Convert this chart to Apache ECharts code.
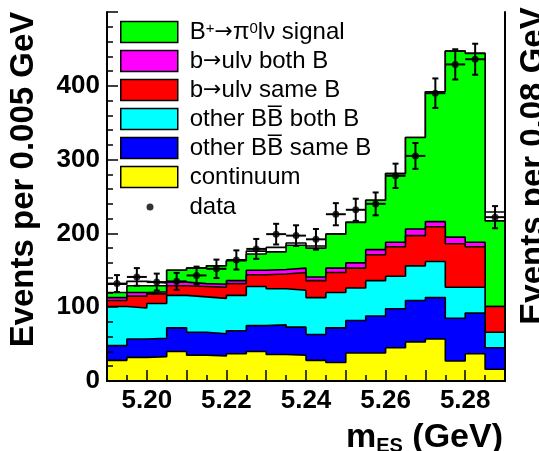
<!DOCTYPE html>
<html><head><meta charset="utf-8">
<script src="https://cdn.jsdelivr.net/npm/echarts@6/dist/echarts.min.js"></script>
<style>html,body{margin:0;padding:0;background:#fff}#c{width:539px;height:451px}</style>
</head><body><div id="c"></div>
<script>
// bin lower edges (GeV), bin width 0.005
const binLow = [5.190,5.195,5.200,5.205,5.210,5.215,5.220,5.225,5.230,5.235,5.240,5.245,5.250,5.255,5.260,5.265,5.270,5.275,5.280,5.285];
const binWidth = 0.005;
// stacked components (events per bin), bottom to top
const continuum = [28,32,33,40,35,34,37,40,36,35,28,25,38,38,45,53,57,27,37,16];
const otherSameB = [20,25,25,32,31,30,31,35,40,38,35,47,44,50,53,56,56,58,55,29];
const otherBothB = [53,42,47,44,48,48,48,53,49,50,50,48,44,48,44,47,49,42,35,21];
const bulvSameB = [8,16,13,13,14,15,16,16,20,24,23,27,27,35,40,41,47,59,55,35];
const bulvBothB = [4,5,3,5,4,4,4,6,6,6,5,6,7,7,6,9,7,9,6,0];
const signal = [7,9,8,16,21,25,27,22,24,31,39,46,55,67,93,124,176,252,256,116];
const remainder = [11,6,4,0,0,0,0,4,6,3,3,0,0,0,0,0,0,0,0,12];
// data points and errors
const dataVals = [132,141,134,135,143,152,164,179,199,197,192,226,232,240,278,305,390,429,436,222];
const dataErr = [11.5,12,11.5,11.5,12,12.5,13,13.5,14,14,14,15,15,15.5,16.5,17.5,20,20.5,21,15];
// axis ticks / labels
const xLabelVals = [5.20,5.22,5.24,5.26,5.28];
const xMajorTicks = [5.20,5.21,5.22,5.23,5.24,5.25,5.26,5.27,5.28];
const xMinorTicks = [5.195,5.205,5.215,5.225,5.235,5.245,5.255,5.265,5.275,5.285];

const FONT = 'Liberation Sans';
const names = {
  sig: 'B+→π0lν signal', bb: 'b→ulν both B', bs: 'b→ulν same B',
  ob: 'other BB both B', os: 'other BB same B', cont: 'continuum'
};
const richLabels = {};
richLabels[names.sig] = '{n|B}{sup|+}{ar|→}{n|π}{sup|0}{n|lν signal}';
richLabels[names.bb] = '{n|b}{ar|→}{n|ulν both B}';
richLabels[names.bs] = '{n|b}{ar|→}{n|ulν same B}';
richLabels[names.ob] = '{n|other BB\u0305 both B}';
richLabels[names.os] = '{n|other BB\u0305 same B}';
richLabels[names.cont] = '{n|continuum}';

// cumulative stack tops (built from the component arrays)
const layersDef = [
  [names.cont, continuum, '#ffff00'],
  [names.os, otherSameB, '#0000ff'],
  [names.ob, otherBothB, '#00ffff'],
  [names.bs, bulvSameB, '#ff0000'],
  [names.bb, bulvBothB, '#ff00ff'],
  [names.sig, signal, '#00ff00'],
  ['other', remainder, '#ffffff']
];
let running = binLow.map(()=>0);
const cumLayers = layersDef.map(([name, arr, color])=>{
  running = running.map((v,i)=>v+arr[i]);
  return [name, running.slice(), color];
});

function stepData(arr){
  const d = binLow.map((x,i)=>[x, arr[i]]);
  d.push([binLow[binLow.length-1]+binWidth, arr[arr.length-1]]);
  return d;
}
function layer(name, cum, color, z){
  return {
    name, type:'line', step:'end', symbol:'none', z,
    data: stepData(cum), xAxisIndex:0, yAxisIndex:0,
    lineStyle:{color:'#000', width:1.6},
    itemStyle:{color},
    areaStyle:{color, opacity:1, origin:'start'},
    emphasis:{disabled:true}, silent:true
  };
}
const centers = binLow.map(x=>x+binWidth/2);

const chart = echarts.init(document.getElementById('c'), null, {renderer:'canvas'});
chart.setOption({
  animation:false,
  backgroundColor:'#fff',
  grid:{left:107, right:34, top:12, bottom:70, show:false, containLabel:false, outerBoundsMode:'none'},
  xAxis:[
    {type:'value', min:5.19, max:5.29, position:'bottom', z:20,
     axisLine:{show:true, onZero:false, lineStyle:{color:'#000', width:2}},
     axisTick:{show:true, inside:true, length:11, customValues:xMajorTicks, lineStyle:{color:'#000', width:1.5}},
     axisLabel:{customValues:xLabelVals, formatter:v=>Number(v).toFixed(2), fontSize:26, fontWeight:'bold', color:'#000', fontFamily:FONT, margin:7},
     splitLine:{show:false},
     name:'{m|m}{s|ES}{m| (GeV)}', nameLocation:'end', nameGap:-2,
     nameTextStyle:{align:'right', verticalAlign:'top', padding:[39,0,0,0],
       rich:{m:{fontSize:34, fontWeight:'bold', color:'#000', fontFamily:FONT, lineHeight:36},
             s:{fontSize:20, fontWeight:'bold', color:'#000', fontFamily:FONT, verticalAlign:'bottom', lineHeight:36}}}
    },
    {type:'value', min:5.19, max:5.29, position:'bottom', z:20,
     axisLine:{show:false},
     axisTick:{show:true, inside:true, length:6, customValues:xMinorTicks, lineStyle:{color:'#000', width:1.5}},
     axisLabel:{show:false}, splitLine:{show:false}},
    {type:'value', min:5.19, max:5.29, position:'top', z:20,
     axisLine:{show:true, lineStyle:{color:'#000', width:2}},
     axisTick:{show:false}, axisLabel:{show:false}, splitLine:{show:false}}
  ],
  yAxis:[
    {type:'value', min:0, max:500, interval:100, position:'left', z:20,
     axisLine:{show:true, lineStyle:{color:'#000', width:2}},
     axisTick:{show:true, inside:true, length:11, lineStyle:{color:'#000', width:1.5}},
     minorTick:{show:true, splitNumber:5, length:6, lineStyle:{color:'#000', width:1.5}},
     axisLabel:{showMaxLabel:false, fontSize:26, fontWeight:'bold', color:'#000', fontFamily:FONT, margin:7},
     splitLine:{show:false},
     name:'Events per 0.005 GeV', nameLocation:'middle', nameGap:67,
     nameTextStyle:{fontSize:33, fontWeight:'bold', color:'#000', fontFamily:FONT, padding:[0,0,0,34]}
    },
    {type:'value', min:0, max:500, position:'right', z:20,
     axisLine:{show:true, lineStyle:{color:'#000', width:2}},
     axisTick:{show:false}, axisLabel:{show:false}, splitLine:{show:false}}
  ],
  legend:[
    {orient:'vertical', left:115, top:15, itemWidth:57, itemHeight:21, itemGap:5, icon:'rect',
     data:[names.sig, names.bb, names.bs, names.ob, names.os, names.cont],
     itemStyle:{borderColor:'#000', borderWidth:1.5},
     formatter:n=>richLabels[n],
     selectedMode:false,
     textStyle:{color:'#000', fontSize:24, fontFamily:FONT, lineHeight:21, padding:[0,0,0,7],
       rich:{n:{fontSize:24, fontFamily:FONT, color:'#000', lineHeight:21},
             ar:{fontSize:22, fontFamily:'DejaVu Sans', color:'#000', lineHeight:21},
             sup:{fontSize:15, fontFamily:FONT, color:'#000', verticalAlign:'top', lineHeight:21}}}
    },
    {orient:'vertical', left:141.5, top:190, itemWidth:7, itemHeight:7, icon:'circle',
     data:['data'], selectedMode:false,
     itemStyle:{color:'#000', borderWidth:0},
     textStyle:{color:'#000', fontSize:24, fontFamily:FONT, lineHeight:21, padding:[0,0,0,31]}
    }
  ],
  graphic:[
    {type:'text', x:534, y:166, rotation:Math.PI/2, z:30,
     style:{text:'Events per 0.08 GeV', font:'bold 33px "Liberation Sans"', align:'center', verticalAlign:'middle', fill:'#000'}}
  ],
  series:[
    ...cumLayers.map((l,k)=>layer(l[0], l[1], l[2], 9-k)).reverse(),
    {name:'data errors', type:'custom', z:11, silent:true,
     data: centers.map((x,i)=>[x, dataVals[i], dataErr[i]]),
     encode:{x:0, y:1},
     renderItem:function(params, api){
       const x=api.value(0), y=api.value(1), e=api.value(2);
       const lo=api.coord([x, y-e]), hi=api.coord([x, y+e]);
       const l=api.coord([x-binWidth/2, y]), r=api.coord([x+binWidth/2, y]);
       const st={stroke:'#000', lineWidth:2};
       const c=3;
       return {type:'group', children:[
         {type:'line', shape:{x1:lo[0],y1:lo[1],x2:hi[0],y2:hi[1]}, style:st},
         {type:'line', shape:{x1:l[0],y1:l[1],x2:r[0],y2:r[1]}, style:st},
         {type:'line', shape:{x1:lo[0]-c,y1:lo[1],x2:lo[0]+c,y2:lo[1]}, style:st},
         {type:'line', shape:{x1:hi[0]-c,y1:hi[1],x2:hi[0]+c,y2:hi[1]}, style:st}
       ]};
     }
    },
    {name:'data', type:'scatter', z:12, symbol:'circle', symbolSize:7,
     itemStyle:{color:'#000'}, silent:true,
     data: centers.map((x,i)=>[x, dataVals[i]])}
  ]
});
</script>
</body></html>
